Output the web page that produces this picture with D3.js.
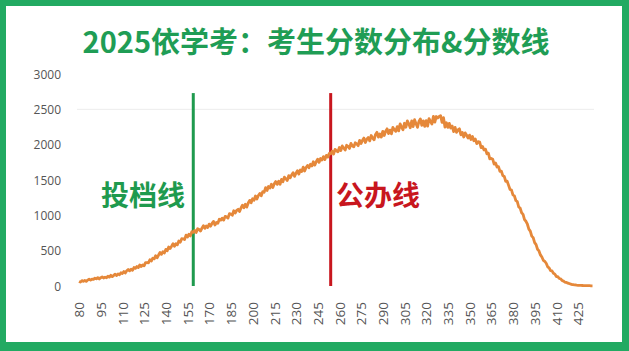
<!DOCTYPE html>
<html><head><meta charset="utf-8">
<script src="https://cdn.jsdelivr.net/npm/d3@7"></script>
<style>html,body{margin:0;padding:0;background:#fff;}svg{display:block;}</style>
</head><body>
<svg id="chart" width="629" height="351"></svg>
<script>
const titleText = "2025依学考：考生分数分布&分数线";
const scoreStart = 80;
const counts = [
65,55,76,66,78,65,84,97,84,98,
93,111,101,118,100,118,129,113,125,116,
138,126,152,133,150,168,147,171,159,187,
177,204,184,216,233,214,237,223,261,249,
276,260,299,277,298,285,331,330,327,372,
353,394,385,429,399,438,474,448,484,466,
518,499,552,531,564,600,562,599,582,637,
620,669,668,657,720,693,733,709,769,759,
787,757,811,799,777,819,852,815,850,827,
876,846,886,914,864,898,888,944,932,960,
932,985,978,961,1024,1017,1001,1065,1033,1071,
1085,1054,1105,1144,1107,1156,1116,1174,1212,1178,
1234,1214,1274,1232,1280,1310,1276,1334,1326,1392,
1352,1408,1388,1440,1394,1446,1478,1438,1482,1440,
1508,1476,1540,1516,1494,1562,1530,1572,1604,1552,
1596,1630,1584,1642,1620,1682,1628,1676,1706,1674,
1724,1699,1758,1711,1758,1795,1750,1805,1782,1831,
1790,1848,1824,1876,1870,1906,1868,1934,1914,1900,
1960,1917,1982,1953,1924,1991,1975,1947,2019,1981,
1969,2027,2011,1985,2061,2017,2061,2093,2031,2077,
2101,2053,2129,2093,2069,2145,2175,2107,2151,2107,
2189,2130,2189,2224,2157,2206,2153,2244,2213,2188,
2255,2195,2293,2249,2211,2303,2247,2337,2295,2239,
2335,2256,2353,2296,2245,2328,2365,2272,2337,2258,
2341,2262,2369,2330,2291,2400,2320,2398,2378,2398,
2410,2316,2382,2250,2310,2244,2302,2236,2264,2184,
2244,2174,2208,2224,2140,2172,2109,2166,2133,2094,
2135,2073,2117,2055,2079,2015,2042,2037,1958,1973,
1926,1936,1872,1880,1800,1806,1794,1724,1740,1684,
1690,1624,1626,1562,1550,1482,1482,1424,1366,1358,
1290,1276,1210,1194,1118,1102,1036,1014,940,916,
874,804,776,706,684,614,586,520,496,440,
410,364,348,322,272,256,218,214,180,168,
134,133,106,101,78,69,53,52,39,35,
26,21,18,17,12,10,9,8,7,6,
5,5,4,4,3,3
];
const xTickLabels = [80,95,110,125,140,155,170,185,200,215,230,245,260,275,290,305,320,335,350,365,380,395,410,425];
const yTickLabels = [0,500,1000,1500,2000,2500,3000];
const gridValues = [2500];
const refScores = [159, 254];
const refNames = ["投档线", "公办线"];
const refColors = ["#1f9a4e", "#c8161e"];
const refTop = 2730;

const data = counts.map((v,i)=>({score: scoreStart+i, value: v}));

const svg = d3.select("#chart");
const W = 629, H = 351;
// frame
svg.append("rect").attr("x",0).attr("y",0).attr("width",W).attr("height",H).attr("fill","#22aa62");
svg.append("rect").attr("x",6).attr("y",6).attr("width",616).attr("height",336).attr("fill","#ffffff");

const x = d3.scaleLinear().domain([80,435]).range([79,592.5]);
const y = d3.scaleLinear().domain([0,3000]).range([286,74]);

// title
svg.append("text").attr("x",316).attr("y",53).attr("text-anchor","middle")
  .attr("font-family","'Noto Sans CJK SC','Noto Sans',sans-serif").attr("font-weight","bold")
  .attr("font-size",29).attr("fill","#1f9d55").text(titleText);

// gridlines
svg.append("g").selectAll("line").data(gridValues).join("line")
  .attr("x1",77).attr("x2",594).attr("y1",d=>y(d)).attr("y2",d=>y(d))
  .attr("stroke","#ececec").attr("stroke-width",1);

// y axis
const yAxis = d3.axisLeft(y).tickValues(yTickLabels).tickSize(0).tickPadding(0).tickFormat(d=>String(d));
const gy = svg.append("g").attr("transform","translate(61,0)").call(yAxis);
gy.select(".domain").remove();
gy.selectAll("text").attr("font-family","'Open Sans','DejaVu Sans',sans-serif").attr("font-size",12).attr("fill","#555").attr("dy","0.35em");

// x axis
const xAxis = d3.axisBottom(x).tickValues(xTickLabels).tickSize(0).tickPadding(0).tickFormat(d=>String(d));
const gx = svg.append("g").attr("transform","translate(0,300)").call(xAxis);
gx.select(".domain").remove();
gx.selectAll("text").attr("font-family","'Open Sans','DejaVu Sans',sans-serif").attr("font-size",13.5).attr("fill","#555")
  .attr("transform","rotate(-90)").attr("text-anchor","end").attr("x",-2).attr("y",0).attr("dy","0.35em");

// reference lines
svg.append("g").selectAll("line").data(refScores).join("line")
  .attr("x1",d=>x(d)).attr("x2",d=>x(d)).attr("y1",y(refTop)).attr("y2",y(0))
  .attr("stroke",(d,i)=>refColors[i]).attr("stroke-width",3);

// data line
const line = d3.line().x(d=>x(d.score)).y(d=>y(d.value));
svg.append("path").datum(data).attr("d",line).attr("fill","none")
  .attr("stroke","#e5883a").attr("stroke-width",2.8).attr("stroke-linejoin","round");

// ref labels
svg.append("text").attr("x",143).attr("y",206).attr("text-anchor","middle")
  .attr("font-family","'Noto Sans CJK SC',sans-serif").attr("font-weight","bold").attr("font-size",28)
  .attr("fill",refColors[0]).text(refNames[0]);
svg.append("text").attr("x",378).attr("y",206).attr("text-anchor","middle")
  .attr("font-family","'Noto Sans CJK SC',sans-serif").attr("font-weight","bold").attr("font-size",28)
  .attr("fill",refColors[1]).text(refNames[1]);
</script>
</body></html>
